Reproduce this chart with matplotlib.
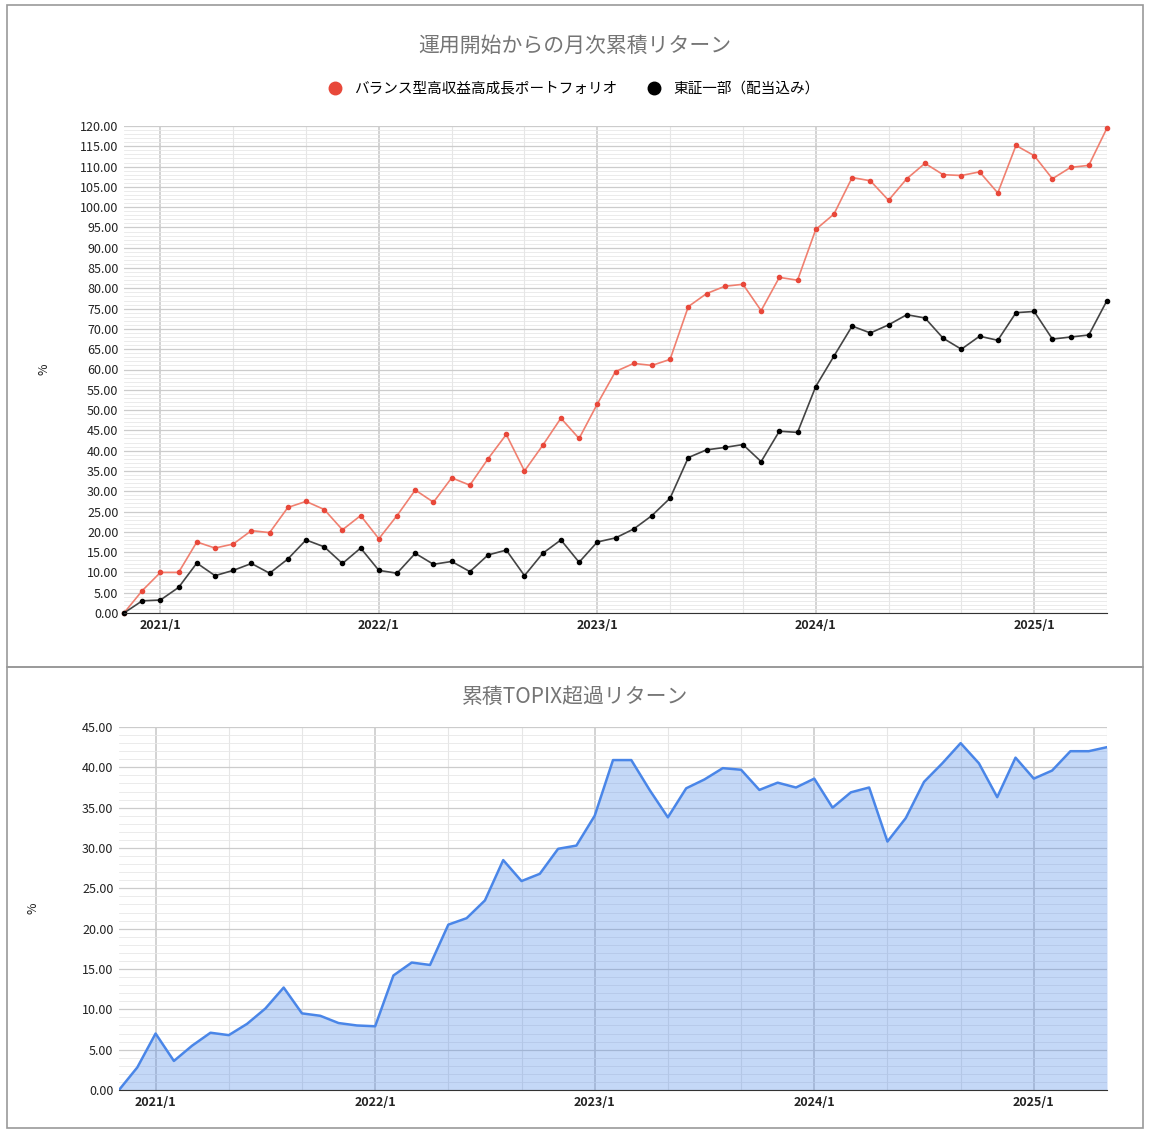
import matplotlib
matplotlib.use("Agg")
import matplotlib.pyplot as plt
from matplotlib.patches import Rectangle
from matplotlib.lines import Line2D
import numpy as np

plt.rcParams["font.family"] = ["Noto Sans CJK JP", "DejaVu Sans"]

months = [f"{y}/{m}" for y in range(2020, 2026) for m in range(1, 13)][10:65]
portfolio = [0, 5.5, 10, 10, 17.5, 16, 17, 20.3, 19.8, 26, 27.5, 25.5, 20.5, 24,
             18.3, 24, 30.3, 27.3, 33.3, 31.5, 38, 44, 35, 41.3, 48, 43,
             51.5, 59.5, 61.5, 61, 62.5, 75.5, 78.7, 80.5, 81, 74.5, 82.7, 82,
             94.5, 98.3, 107.3, 106.5, 101.7, 107, 110.8, 108, 107.8, 108.7, 103.5, 115.2,
             112.7, 107, 109.8, 110.3, 119.5]
topix = [0, 3, 3.2, 6.3, 12.3, 9.2, 10.5, 12.2, 9.8, 13.3, 18, 16.3, 12.2, 16,
         10.5, 9.8, 14.7, 12, 12.7, 10.2, 14.3, 15.5, 9.2, 14.7, 18, 12.5,
         17.5, 18.5, 20.7, 24, 28.3, 38.3, 40.2, 40.8, 41.5, 37.3, 44.8, 44.5,
         55.8, 63.3, 70.7, 69, 71, 73.5, 72.7, 67.7, 65, 68.2, 67.2, 74,
         74.3, 67.5, 68, 68.5, 77]
excess = [0, 2.8, 7, 3.6, 5.5, 7.1, 6.8, 8.2, 10.1, 12.7, 9.5, 9.2, 8.3, 8.0,
          7.9, 14.2, 15.8, 15.5, 20.5, 21.3, 23.5, 28.5, 25.9, 26.8, 29.9, 30.3,
          34, 40.9, 40.9, 37.2, 33.8, 37.4, 38.5, 39.9, 39.7, 37.2, 38.1, 37.5,
          38.6, 35, 36.9, 37.5, 30.8, 33.7, 38.2, 40.5, 43, 40.5, 36.3, 41.2,
          38.6, 39.6, 42, 42, 42.5]
year_ticks = ["2021/1", "2022/1", "2023/1", "2024/1", "2025/1"]

W, H = 1151, 1134
fig = plt.figure(figsize=(W / 100, H / 100), dpi=100)
fig.patches.append(Rectangle((7 / W, 1 - 667 / H), 1136 / W, 662 / H, transform=fig.transFigure,
                             fill=False, edgecolor="#999999", lw=1.2))
fig.patches.append(Rectangle((7 / W, 1 - 1128 / H), 1136 / W, 461 / H, transform=fig.transFigure,
                             fill=False, edgecolor="#999999", lw=1.2))

def ax_px(x0, y0, x1, y1):
    return fig.add_axes([x0 / W, 1 - y1 / H, (x1 - x0) / W, (y1 - y0) / H])

x = np.arange(len(months))
tick_pos = [months.index(t) for t in year_ticks]

def style(ax, ymax, step):
    ax.set_xlim(0, len(months) - 1)
    ax.set_ylim(0, ymax)
    ax.set_yticks(np.arange(0, ymax + 0.01, step))
    ax.set_yticklabels([f"{v:.2f}" for v in np.arange(0, ymax + 0.01, step)], fontsize=9, color="#222222")
    ax.set_yticks(np.arange(0, ymax + 0.01, step / 5), minor=True)
    ax.set_xticks(tick_pos)
    ax.set_xticklabels(year_ticks, fontsize=9, fontweight="bold", color="#222222")
    minor_x = [p for p in range(-10, len(months)) if (p - 2) % 4 == 0 and p >= 0 and p not in tick_pos]
    ax.set_xticks(minor_x, minor=True)
    ax.grid(which="major", axis="y", color="#cccccc", lw=0.9)
    ax.grid(which="minor", axis="y", color="#e8e8e8", lw=0.6)
    ax.grid(which="major", axis="x", color="#cccccc", lw=1.2)
    ax.grid(which="minor", axis="x", color="#e6e6e6", lw=0.8)
    ax.tick_params(which="both", length=0, pad=4)
    for s in ["top", "right", "left"]:
        ax.spines[s].set_visible(False)
    ax.spines["bottom"].set_color("#333333")
    ax.set_axisbelow(True)
    ax.set_ylabel("%", fontsize=9, color="#222222")

ax1 = ax_px(124, 126, 1107, 613)
style(ax1, 120, 5)
ax1.yaxis.set_label_coords(-0.075, 0.5)
ax1.plot(x, portfolio, color="#f08070", lw=1.2, marker="o", ms=3, mfc="#e8483a", mec="#e8483a", clip_on=False)
ax1.plot(x, topix, color="#444444", lw=1.2, marker="o", ms=3, mfc="black", mec="black", clip_on=False)
fig.text(575 / W, 1 - 46 / H, "運用開始からの月次累積リターン", ha="center", va="center", fontsize=15, color="#757575")
handles = [Line2D([], [], ls="", marker="o", ms=9, color="#e8483a"),
           Line2D([], [], ls="", marker="o", ms=9, color="black")]
fig.legend(handles, ["バランス型高収益高成長ポートフォリオ", "東証一部（配当込み）"], loc="center",
           bbox_to_anchor=(570 / W, 1 - 89 / H), ncol=2, frameon=False, fontsize=10.5,
           handletextpad=0.3, columnspacing=1.5)

ax2 = ax_px(119, 727, 1107, 1090)
style(ax2, 45, 5)
ax2.yaxis.set_label_coords(-0.08, 0.5)
ax2.fill_between(x, excess, color="#4a86e8", alpha=0.32, lw=0)
ax2.plot(x, excess, color="#4a86e8", lw=1.8)
fig.text(575 / W, 1 - 697 / H, "累積TOPIX超過リターン", ha="center", va="center", fontsize=15, color="#757575")

fig.savefig("out.png", dpi=100, facecolor="white")
